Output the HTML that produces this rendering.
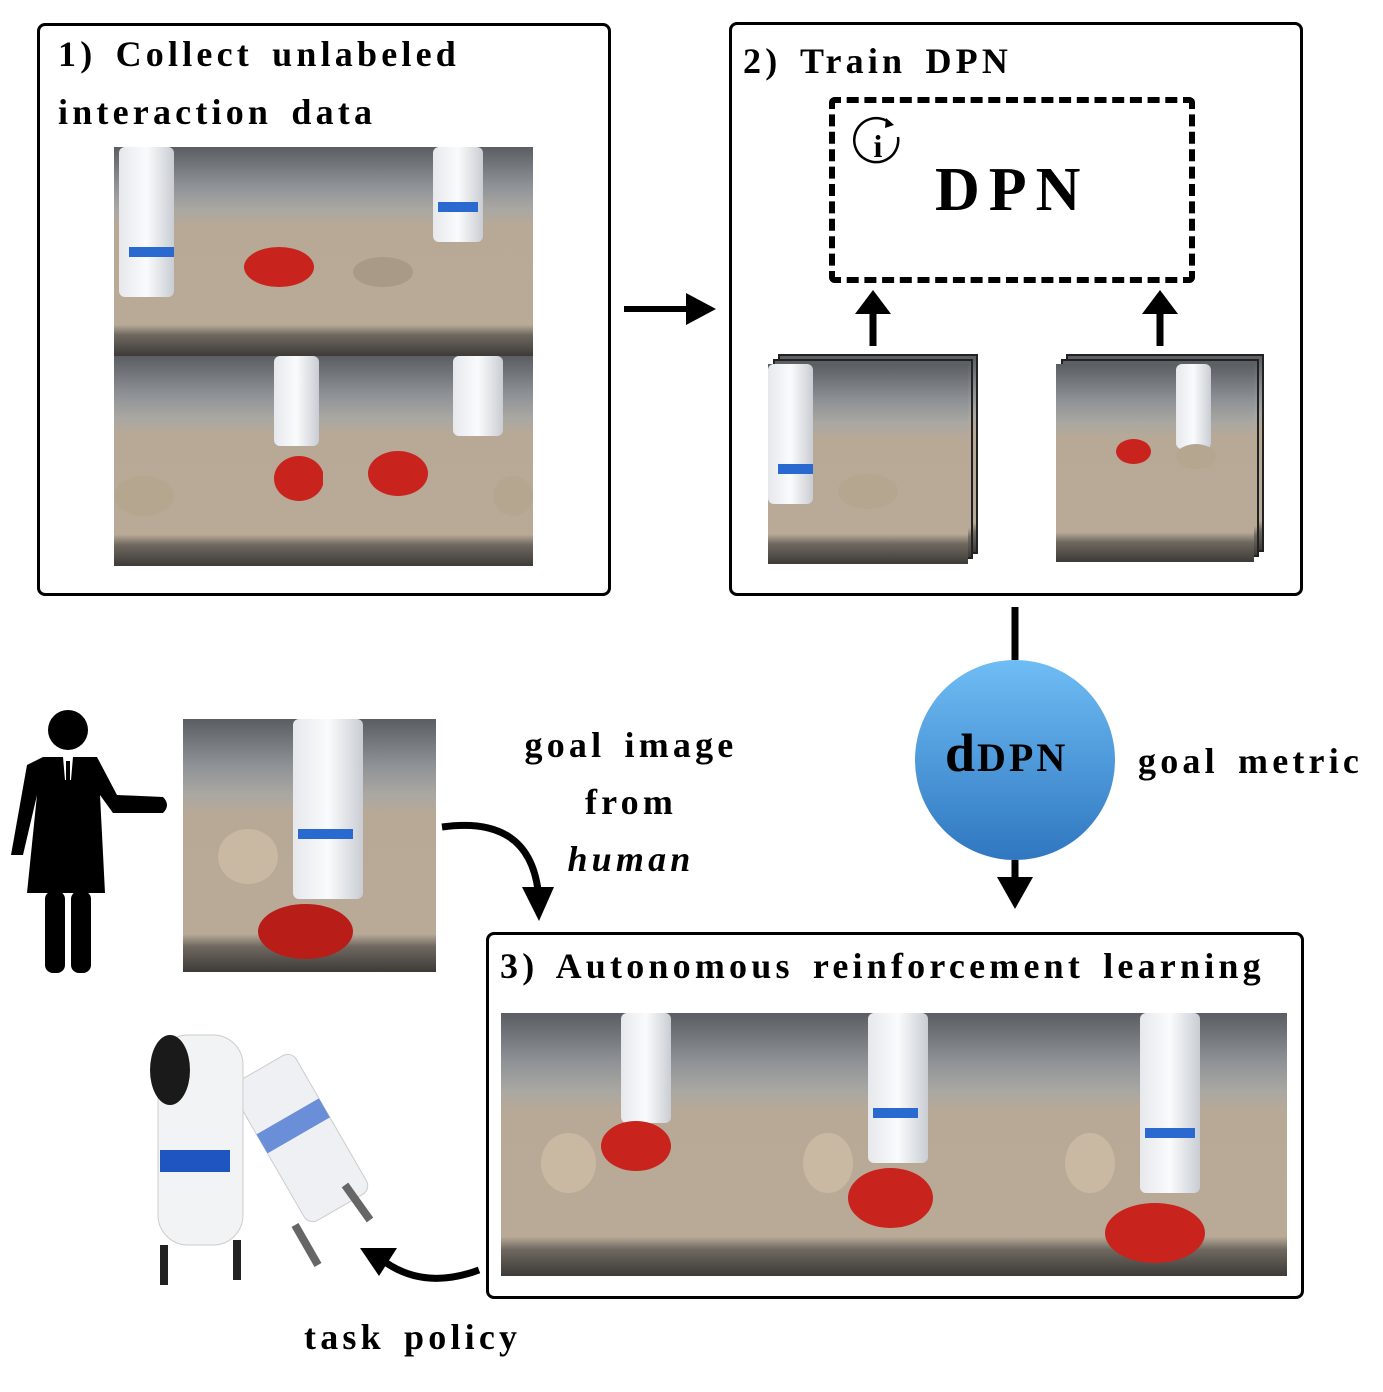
<!DOCTYPE html>
<html><head><meta charset="utf-8"><style>
body{margin:0;width:1383px;height:1392px;background:#fff;position:relative;overflow:hidden;font-family:"Liberation Serif",serif;}
.box{position:absolute;border:3.5px solid #000;border-radius:8px;box-sizing:border-box;}
.t{position:absolute;font-weight:bold;font-size:36px;letter-spacing:4.2px;word-spacing:6px;white-space:nowrap;color:#000;}
.img{position:absolute;background:linear-gradient(180deg,#5a5e63 0%,#8d9196 18%,#aaa8a2 30%,#b8a996 38%,#b9aa97 85%,#6e6860 90%,#3d3a37 100%);overflow:hidden;}
.img .arm{position:absolute;background:linear-gradient(90deg,#e6e8ec,#fafbfc,#c9cdd3);border-radius:6px;}
.img .band{position:absolute;background:#2a6ad0;}
.img .toy{position:absolute;border-radius:50%;}
.stack{position:absolute;border:2px solid #222;box-sizing:border-box;}
</style></head><body>

<div class="box" style="left:37px;top:23px;width:574px;height:573px"></div>
<div class="t" style="left:58px;top:33px">1) Collect unlabeled</div>
<div class="t" style="left:58px;top:91px">interaction data</div>
<div style="position:absolute;left:114px;top:147px;width:420px;height:419px">
  <div class="img" style="left:0;top:0;width:209px;height:209px"><div class="arm" style="left:5px;top:0;width:55px;height:150px"></div><div class="band" style="left:15px;top:100px;width:45px;height:10px"></div><div class="toy" style="left:130px;top:100px;width:70px;height:40px;background:#c8231c"></div></div>
  <div class="img" style="left:209px;top:0;width:210px;height:209px"><div class="arm" style="left:110px;top:0;width:50px;height:95px"></div><div class="band" style="left:115px;top:55px;width:40px;height:10px"></div><div class="toy" style="left:30px;top:110px;width:60px;height:30px;background:#a99a88"></div></div>
  <div class="img" style="left:0;top:209px;width:209px;height:210px"><div class="arm" style="left:160px;top:0;width:45px;height:90px"></div><div class="toy" style="left:160px;top:100px;width:50px;height:45px;background:#c8231c"></div><div class="toy" style="left:0;top:120px;width:60px;height:40px;background:#b5a690"></div></div>
  <div class="img" style="left:209px;top:209px;width:210px;height:210px"><div class="arm" style="left:130px;top:0;width:50px;height:80px"></div><div class="toy" style="left:45px;top:95px;width:60px;height:45px;background:#c8231c"></div><div class="toy" style="left:170px;top:120px;width:40px;height:40px;background:#b5a690"></div></div>
</div>

<svg style="position:absolute;left:620px;top:290px" width="100" height="40"><line x1="4" y1="19" x2="70" y2="19" stroke="#000" stroke-width="6"/><polygon points="66,3 96,19 66,35" fill="#000"/></svg>

<div class="box" style="left:729px;top:22px;width:574px;height:574px"></div>
<div class="t" style="left:743px;top:40px">2) Train DPN</div>
<div style="position:absolute;left:829px;top:97px;width:366px;height:186px;border:6px dashed #000;box-sizing:border-box;border-radius:6px"></div>
<svg style="position:absolute;left:850px;top:113px" width="56" height="56"><path d="M40 10 A22 22 0 1 0 48 24" fill="none" stroke="#000" stroke-width="2.5"/><polygon points="36,5 44,12 35,15" fill="#000"/><text x="28" y="44" font-family="Liberation Serif" font-size="32" font-weight="bold" text-anchor="middle">i</text></svg>
<div class="t" style="left:935px;top:155px;font-size:62px;letter-spacing:9px">DPN</div>
<svg style="position:absolute;left:850px;top:288px" width="340" height="62"><line x1="23" y1="20" x2="23" y2="58" stroke="#000" stroke-width="7"/><polygon points="5,26 23,2 41,26" fill="#000"/><line x1="310" y1="20" x2="310" y2="58" stroke="#000" stroke-width="7"/><polygon points="292,26 310,2 328,26" fill="#000"/></svg>
<div style="position:absolute;left:768px;top:354px;width:212px;height:212px">
  <div class="stack img" style="left:10px;top:0;width:200px;height:200px"></div>
  <div class="stack img" style="left:5px;top:5px;width:200px;height:200px"></div>
  <div class="img" style="left:0;top:10px;width:200px;height:200px"><div class="arm" style="left:0;top:0;width:45px;height:140px"></div><div class="band" style="left:10px;top:100px;width:35px;height:10px"></div><div class="toy" style="left:70px;top:110px;width:60px;height:35px;background:#b5a690"></div></div>
</div>
<div style="position:absolute;left:1056px;top:354px;width:210px;height:210px">
  <div class="stack img" style="left:10px;top:0;width:198px;height:198px"></div>
  <div class="stack img" style="left:5px;top:5px;width:198px;height:198px"></div>
  <div class="img" style="left:0;top:10px;width:198px;height:198px"><div class="arm" style="left:120px;top:0;width:35px;height:85px"></div><div class="toy" style="left:60px;top:75px;width:35px;height:25px;background:#c8231c"></div><div class="toy" style="left:120px;top:80px;width:40px;height:25px;background:#b5a690"></div></div>
</div>

<svg style="position:absolute;left:900px;top:605px" width="240" height="310">
  <defs><linearGradient id="g" x1="0" y1="0" x2="0" y2="1"><stop offset="0" stop-color="#6fbdf5"/><stop offset="1" stop-color="#2f77c0"/></linearGradient></defs>
  <line x1="115" y1="2" x2="115" y2="55" stroke="#000" stroke-width="7"/>
  <circle cx="115" cy="155" r="100" fill="url(#g)"/>
  <line x1="115" y1="255" x2="115" y2="280" stroke="#000" stroke-width="7"/>
  <polygon points="97,272 115,304 133,272" fill="#000"/>
</svg>
<div class="t" style="left:945px;top:722px;font-size:54px;letter-spacing:2px">d<span style="font-size:40px;letter-spacing:3px">DPN</span></div>
<div class="t" style="left:1138px;top:740px">goal metric</div>

<svg style="position:absolute;left:5px;top:705px" width="170" height="272">
  <circle cx="63" cy="25" r="20" fill="#000"/>
  <path d="M38 52 L92 52 L112 90 L158 92 Q166 100 158 108 L108 108 L95 90 L100 188 L22 188 L32 90 L18 150 L6 150 L22 60 Z" fill="#000"/>
  <rect x="40" y="186" width="20" height="82" rx="8" fill="#000"/><rect x="66" y="186" width="20" height="82" rx="8" fill="#000"/>
  <polygon points="58,52 68,52 66,75 60,75" fill="#fff"/><rect x="61" y="56" width="4" height="20" fill="#000"/>
</svg>
<div class="img" style="left:183px;top:719px;width:253px;height:253px"><div class="arm" style="left:110px;top:0;width:70px;height:180px"></div><div class="band" style="left:115px;top:110px;width:55px;height:10px"></div><div class="toy" style="left:75px;top:185px;width:95px;height:55px;background:#b81d18"></div><div class="toy" style="left:35px;top:110px;width:60px;height:55px;background:#c9b9a3"></div></div>

<div class="t" style="left:490px;top:717px;width:282px;text-align:center;line-height:57px;white-space:normal">goal image<br>from<br><i>human</i></div>
<svg style="position:absolute;left:438px;top:815px" width="120" height="110"><path d="M4 12 Q90 0 100 75" fill="none" stroke="#000" stroke-width="7"/><polygon points="84,72 101,106 116,72" fill="#000"/></svg>

<div class="box" style="left:486px;top:932px;width:818px;height:367px"></div>
<div class="t" style="left:500px;top:945px">3) Autonomous reinforcement learning</div>
<div class="img" style="left:501px;top:1013px;width:262px;height:263px"><div class="arm" style="left:120px;top:0;width:50px;height:110px"></div><div class="toy" style="left:100px;top:108px;width:70px;height:50px;background:#c8231c"></div><div class="toy" style="left:40px;top:120px;width:55px;height:60px;background:#c9b9a3"></div></div>
<div class="img" style="left:763px;top:1013px;width:262px;height:263px"><div class="arm" style="left:105px;top:0;width:60px;height:150px"></div><div class="band" style="left:110px;top:95px;width:45px;height:10px"></div><div class="toy" style="left:85px;top:155px;width:85px;height:60px;background:#c8231c"></div><div class="toy" style="left:40px;top:120px;width:50px;height:60px;background:#c9b9a3"></div></div>
<div class="img" style="left:1025px;top:1013px;width:262px;height:263px"><div class="arm" style="left:115px;top:0;width:60px;height:180px"></div><div class="band" style="left:120px;top:115px;width:50px;height:10px"></div><div class="toy" style="left:80px;top:190px;width:100px;height:60px;background:#c8231c"></div><div class="toy" style="left:40px;top:120px;width:50px;height:60px;background:#c9b9a3"></div></div>

<svg style="position:absolute;left:130px;top:1025px" width="250" height="265">
  <g transform="rotate(-30 150 90)"><rect x="120" y="40" width="72" height="160" rx="10" fill="#eef0f3" stroke="#ccc"/><rect x="120" y="95" width="72" height="22" fill="#6a8fd8"/></g>
  <rect x="28" y="10" width="85" height="210" rx="30" fill="#f2f3f5" stroke="#ccc"/>
  <ellipse cx="40" cy="45" rx="20" ry="35" fill="#1a1a1a"/>
  <rect x="30" y="125" width="70" height="22" fill="#1f55c0"/>
  <rect x="30" y="220" width="8" height="40" fill="#222"/><rect x="103" y="215" width="8" height="40" fill="#222"/>
  <line x1="215" y1="160" x2="240" y2="195" stroke="#666" stroke-width="8"/><line x1="165" y1="200" x2="188" y2="240" stroke="#666" stroke-width="8"/>
</svg>
<svg style="position:absolute;left:355px;top:1240px" width="130" height="50"><path d="M124 30 Q70 50 30 22" fill="none" stroke="#000" stroke-width="7"/><polygon points="5,8 42,8 24,36" fill="#000"/></svg>
<div class="t" style="left:304px;top:1316px">task policy</div>
</body></html>
